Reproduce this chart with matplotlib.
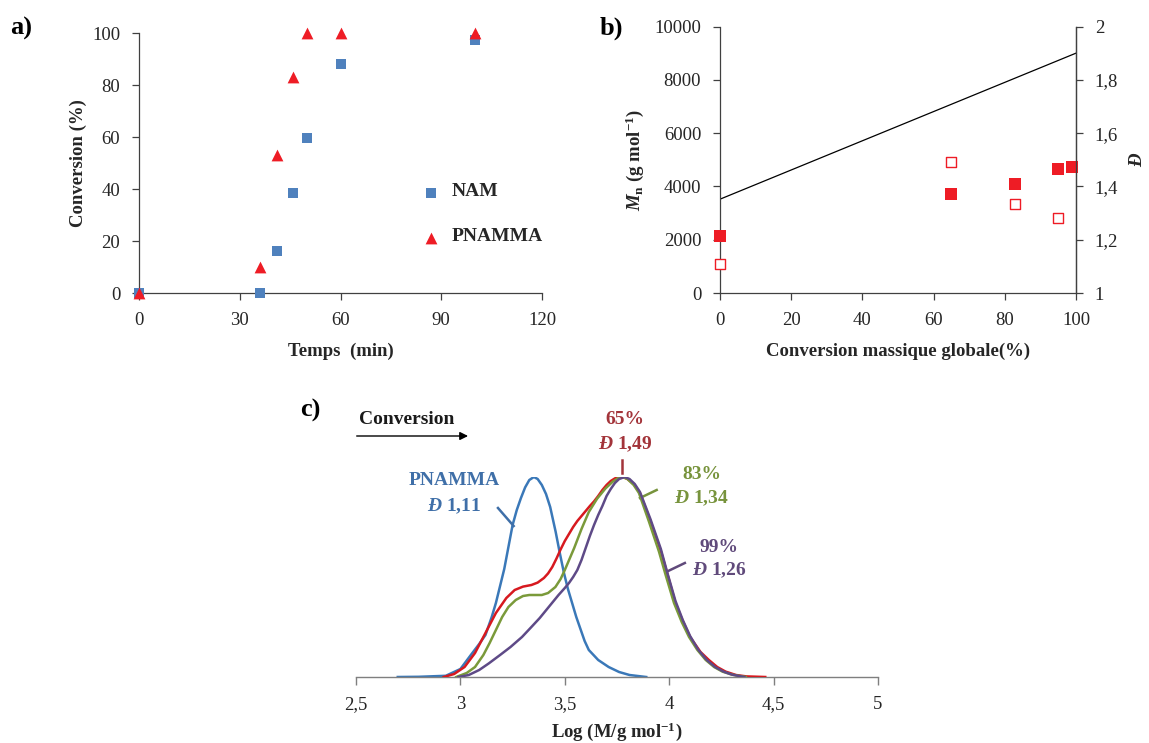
import matplotlib
matplotlib.use("Agg")
import matplotlib.pyplot as plt
from matplotlib.ticker import FixedLocator, FixedFormatter

plt.rcParams['font.family'] = ['Liberation Serif', 'DejaVu Serif']
plt.rcParams['mathtext.fontset'] = 'custom'
plt.rcParams['mathtext.rm'] = 'Liberation Serif:bold'
plt.rcParams['mathtext.it'] = 'Liberation Serif:italic:bold'
plt.rcParams['mathtext.bf'] = 'Liberation Serif:bold'

# ---------------- data: panel a ----------------
time_nam = [0, 36, 41, 46, 50, 60, 100]
conv_nam = [0, 0, 16, 38.5, 59.5, 88, 97.5]
time_pnamma = [0, 36, 41, 46, 50, 60, 100]
conv_pnamma = [0, 10, 53, 83, 100, 100, 100]

# ---------------- data: panel b ----------------
conv_mn = [0, 65, 83, 95, 99]
mn_exp = [2150, 3720, 4080, 4660, 4740]
conv_d = [0, 65, 83, 95]
dispersity = [1.11, 1.49, 1.335, 1.28]
conv_theo = [0, 100]
mn_theo = [3520, 9000]

# ---------------- data: panel c (SEC traces, normalised) ----------------
logm_pnamma = [2.70, 2.80, 2.93, 3.00, 3.05, 3.09, 3.12, 3.15, 3.17, 3.21, 3.25, 3.27, 3.29,
               3.31, 3.33, 3.352, 3.37, 3.39, 3.41, 3.43, 3.456, 3.476, 3.496, 3.515, 3.535,
               3.555, 3.575, 3.595, 3.615, 3.66, 3.71, 3.76, 3.81, 3.89]
h_pnamma = [0, 0.001, 0.006, 0.04, 0.11, 0.165, 0.21, 0.30, 0.37, 0.54, 0.76, 0.835, 0.895,
            0.948, 0.985, 1.0, 0.99, 0.96, 0.915, 0.85, 0.727, 0.62, 0.52, 0.44, 0.37,
            0.30, 0.24, 0.18, 0.135, 0.085, 0.05, 0.025, 0.01, 0.0]

logm_65 = [2.92, 2.97, 3.02, 3.07, 3.12, 3.17, 3.22, 3.26, 3.30, 3.34, 3.37, 3.40, 3.42,
           3.44, 3.46, 3.48, 3.50, 3.52, 3.54, 3.56, 3.58, 3.60, 3.62, 3.64, 3.66, 3.68,
           3.70, 3.72, 3.74, 3.76, 3.78, 3.80, 3.83, 3.86, 3.91, 3.96, 3.99, 4.03, 4.065,
           4.10, 4.15, 4.19, 4.23, 4.27, 4.32, 4.37, 4.46]
h_65 = [0, 0.015, 0.05, 0.12, 0.22, 0.32, 0.395, 0.435, 0.452, 0.46, 0.472, 0.495, 0.518,
        0.55, 0.592, 0.638, 0.68, 0.715, 0.75, 0.78, 0.805, 0.83, 0.855, 0.878, 0.905,
        0.935, 0.96, 0.98, 0.993, 0.999, 1.0, 0.99, 0.965, 0.92, 0.78, 0.63, 0.52, 0.37,
        0.28, 0.20, 0.125, 0.085, 0.05, 0.027, 0.01, 0.003, 0.0]

logm_83 = [2.98, 3.03, 3.07, 3.11, 3.14, 3.17, 3.20, 3.23, 3.265, 3.30, 3.33, 3.36, 3.39,
           3.42, 3.455, 3.48, 3.50, 3.545, 3.58, 3.615, 3.655, 3.695, 3.73, 3.755, 3.775,
           3.80, 3.83, 3.855, 3.903, 3.951, 3.983, 4.023, 4.06, 4.095, 4.135, 4.175, 4.215,
           4.255, 4.30, 4.367]
h_83 = [0, 0.02, 0.05, 0.11, 0.17, 0.235, 0.30, 0.35, 0.385, 0.405, 0.41, 0.41, 0.41,
        0.42, 0.45, 0.49, 0.535, 0.645, 0.74, 0.825, 0.892, 0.943, 0.977, 0.994, 1.0,
        0.99, 0.96, 0.92, 0.777, 0.627, 0.51, 0.37, 0.275, 0.20, 0.135, 0.085, 0.05,
        0.027, 0.012, 0.0]

logm_99 = [2.99, 3.04, 3.09, 3.136, 3.19, 3.24, 3.295, 3.34, 3.38, 3.423, 3.47, 3.50, 3.52,
           3.54, 3.56, 3.58, 3.60, 3.62, 3.64, 3.66, 3.68, 3.70, 3.72, 3.74, 3.76, 3.787,
           3.81, 3.835, 3.86, 3.91, 3.96, 3.99, 4.03, 4.065, 4.10, 4.14, 4.18, 4.22, 4.26,
           4.30, 4.36]
h_99 = [0, 0.01, 0.035, 0.068, 0.11, 0.15, 0.20, 0.25, 0.295, 0.35, 0.41, 0.445, 0.47,
        0.50, 0.535, 0.585, 0.645, 0.705, 0.76, 0.81, 0.855, 0.905, 0.94, 0.97, 0.99, 1.0,
        0.99, 0.965, 0.925, 0.79, 0.64, 0.525, 0.38, 0.285, 0.205, 0.135, 0.085, 0.05,
        0.027, 0.012, 0.0]

xticks_a = [0, 30, 60, 90, 120]
yticks_a = [0, 20, 40, 60, 80, 100]
xticks_b = [0, 20, 40, 60, 80, 100]
yticks_b = [0, 2000, 4000, 6000, 8000, 10000]
yticks_b2 = [1, 1.2, 1.4, 1.6, 1.8, 2]
yticklabels_b2 = ["1", "1,2", "1,4", "1,6", "1,8", "2"]
xticks_c = [2.5, 3, 3.5, 4, 4.5, 5]
xticklabels_c = ["2,5", "3", "3,5", "4", "4,5", "5"]

W, H = 1149, 743
fig = plt.figure(figsize=(W / 100, H / 100), dpi=100)

TICK_FS = 13.5
LAB_FS = 13.5
TXT = '#262626'
AX = '#404040'

def style(ax, spines):
    for s in ['left', 'right', 'top', 'bottom']:
        ax.spines[s].set_visible(s in spines)
        ax.spines[s].set_linewidth(0.9)
        ax.spines[s].set_color(AX)
    ax.tick_params(direction='out', length=5, width=0.9, colors=AX, pad=8.5,
                   labelsize=TICK_FS, labelcolor=TXT)

# ---------------- panel a ----------------
axa = fig.add_axes([139 / W, 1 - 293 / H, 403 / W, 260 / H])
style(axa, ['left', 'bottom'])
axa.scatter(time_nam, conv_nam, marker='s', s=62, color='#4F81BD', zorder=3,
            clip_on=False, linewidths=0)
axa.scatter(time_pnamma, conv_pnamma, marker='^', s=72, color='#EE1C25', zorder=4,
            clip_on=False, linewidths=0)
axa.set_xlim(0, 120)
axa.set_ylim(0, 100)
axa.set_xticks(xticks_a)
axa.set_yticks(yticks_a)
axa.set_xlabel('Temps  (min)', fontsize=LAB_FS, fontweight='bold', color=TXT, labelpad=10)
axa.set_ylabel('Conversion (%)', fontsize=LAB_FS, fontweight='bold', color=TXT, labelpad=3.5)
# legend (drawn as markers + text)
axa.scatter([87], [38.5], marker='s', s=62, color='#4F81BD', linewidths=0)
axa.scatter([87], [21], marker='^', s=72, color='#EE1C25', linewidths=0)
axa.text(93, 39.2, 'NAM', fontsize=14, fontweight='bold', color=TXT, va='center')
axa.text(93, 21.6, 'PNAMMA', fontsize=14, fontweight='bold', color=TXT, va='center')
fig.text(10 / W, 1 - 28 / H, 'a)', fontsize=19, fontweight='bold', color='black', va='center')

# ---------------- panel b ----------------
axb = fig.add_axes([720 / W, 1 - 293 / H, 356 / W, 266.5 / H])
style(axb, ['left', 'bottom', 'right'])
axb.plot(conv_theo, mn_theo, color='black', lw=0.9, zorder=2)
axb.scatter(conv_mn, mn_exp, marker='s', s=80, color='#EE1C25', linewidths=0,
            zorder=4, clip_on=False)
axb.set_xlim(0, 100)
axb.set_ylim(0, 10000)
axb.set_xticks(xticks_b)
axb.set_yticks(yticks_b)
axb.set_xlabel('Conversion massique globale(%)', fontsize=LAB_FS, fontweight='bold',
               color=TXT, labelpad=10)
axb.set_ylabel(r'$M_{\mathrm{n}}$ (g mol$^{\mathrm{-1}}$)', fontsize=LAB_FS,
               fontweight='bold', color=TXT, labelpad=6)
axb2 = axb.twinx()
style(axb2, ['right'])
axb2.scatter(conv_d, dispersity, marker='s', s=62, facecolors='white',
             edgecolors='#EE1C25', linewidths=1.0, zorder=4, clip_on=False)
axb2.set_ylim(1, 2)
axb2.yaxis.set_major_locator(FixedLocator(yticks_b2))
axb2.yaxis.set_major_formatter(FixedFormatter(yticklabels_b2))
axb2.set_ylabel(r'$Đ$', fontsize=LAB_FS, color=TXT, rotation=90, labelpad=8)
fig.text(600 / W, 1 - 28 / H, 'b)', fontsize=19, fontweight='bold', color='black', va='center')

# ---------------- panel c ----------------
axc = fig.add_axes([356 / W, 1 - 677 / H, 522 / W, 200 / H])
for s in ['left', 'right', 'top']:
    axc.spines[s].set_visible(False)
axc.spines['bottom'].set_color('#7F7F7F')
axc.spines['bottom'].set_linewidth(1.0)
axc.tick_params(axis='x', direction='out', length=6, width=1.0, colors='#7F7F7F', pad=7.8,
                labelsize=TICK_FS, labelcolor=TXT)
axc.set_yticks([])
axc.plot(logm_pnamma, h_pnamma, color='#3A78B8', lw=1.8, zorder=2)
axc.plot(logm_65, h_65, color='#D7191F', lw=1.8, zorder=3)
axc.plot(logm_83, h_83, color='#7A9A3A', lw=1.8, zorder=4)
axc.plot(logm_99, h_99, color='#5E4A87', lw=1.8, zorder=5)
axc.set_xlim(2.5, 5)
axc.set_ylim(0, 1)
axc.xaxis.set_major_locator(FixedLocator(xticks_c))
axc.xaxis.set_major_formatter(FixedFormatter(xticklabels_c))
axc.set_xlabel(r'Log (M/g mol$^{\mathrm{-1}}$)', fontsize=LAB_FS, fontweight='bold',
               color=TXT, labelpad=5)

def lab(x, y, s, c):
    axc.text(x, y, s, fontsize=14, fontweight='bold', color=c, ha='center', va='center',
             clip_on=False)

# "Conversion" arrow
lab(2.745, 1.285, 'Conversion', '#1A1A1A')
axc.annotate('', xy=(3.05, 1.205), xytext=(2.49, 1.205), annotation_clip=False,
             arrowprops=dict(arrowstyle='-|>', color='black', lw=1.0, mutation_scale=12))
# PNAMMA
lab(2.97, 0.98, 'PNAMMA', '#3F6FA8')
lab(2.97, 0.855, r'$Đ$ 1,11', '#3F6FA8')
axc.plot([3.18, 3.255], [0.845, 0.755], color='#3F6FA8', lw=1.8, clip_on=False)
# 65 %
lab(3.79, 1.285, '65%', '#A3343A')
lab(3.79, 1.165, r'$Đ$ 1,49', '#A3343A')
axc.plot([3.775, 3.775], [1.085, 1.02], color='#A3343A', lw=1.8, clip_on=False)
# 83 %
lab(4.155, 1.01, '83%', '#77933C')
lab(4.155, 0.895, r'$Đ$ 1,34', '#77933C')
axc.plot([3.86, 3.94], [0.895, 0.935], color='#77933C', lw=1.8, clip_on=False)
# 99 %
lab(4.24, 0.65, '99%', '#604A7B')
lab(4.24, 0.535, r'$Đ$ 1,26', '#604A7B')
axc.plot([3.985, 4.075], [0.525, 0.57], color='#604A7B', lw=1.8, clip_on=False)

fig.text(300 / W, 1 - 410 / H, 'c)', fontsize=19, fontweight='bold', color='black', va='center')

fig.savefig('out.png', dpi=100)
